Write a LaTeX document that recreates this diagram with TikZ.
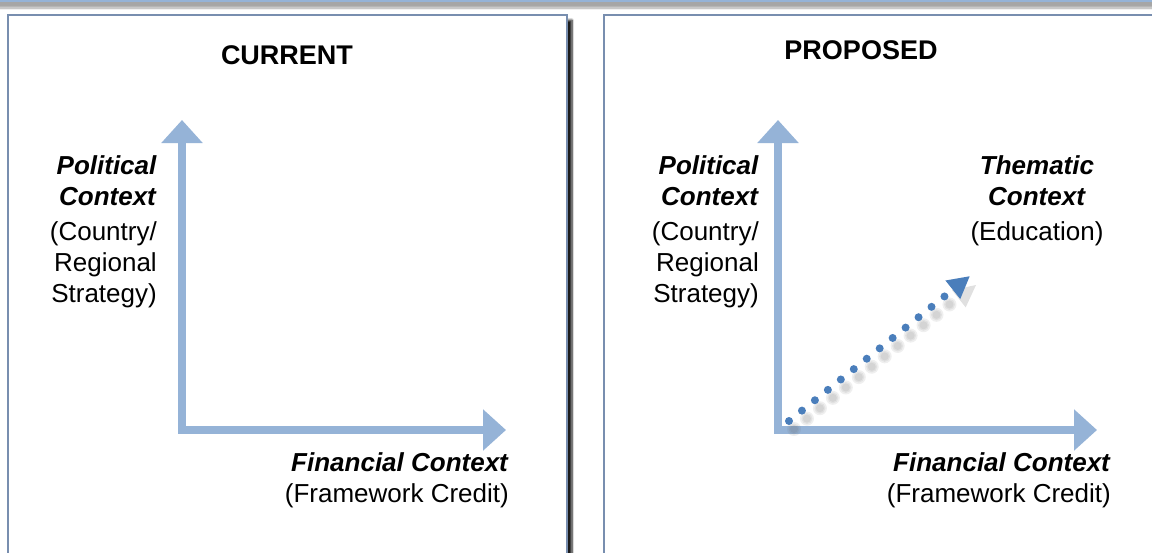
\documentclass[tikz,border=0pt]{standalone}
\usepackage{fontspec}
\setmainfont{Liberation Sans}
\usepackage{xcolor}
\usetikzlibrary{arrows.meta,shadows.blur}
\definecolor{frameblue}{RGB}{120,142,175}
\definecolor{barblue}{RGB}{149,179,215}
\definecolor{axisblue}{RGB}{149,179,215}
\definecolor{dotblue}{RGB}{74,126,187}
\tikzset{
	panel/.style={draw=frameblue, line width=2.5pt, fill=white,
			blur shadow={shadow xshift=5pt, shadow yshift=-5pt, shadow blur steps=8, shadow opacity=90}},
	topbar/.style={draw=barblue, line width=2pt, fill=white,
			blur shadow={shadow xshift=0pt, shadow yshift=-7pt, shadow blur steps=8, shadow opacity=35}},
	axisarrow/.style={draw=axisblue, line width=8pt, line join=miter,
			{Triangle[width=40pt,length=23pt]}-{Triangle[width=40pt,length=23pt]}},
	dotline/.style={draw=#1, line width=8pt, line cap=round, dash pattern=on 0pt off 16.6pt,
			-{Triangle[width=22pt,length=22pt]}},
	dotshade/.style={draw=black!60, line width=#1, line cap=round, dash pattern=on 0pt off 16.6pt,
			opacity=0.1},
	ctxtext/.style={font=\fontsize{26}{31}\selectfont, inner sep=0pt},
	paneltitle/.style={font=\fontsize{27}{31}\selectfont\bfseries, inner sep=0pt}
}

\begin{document}
\begin{tikzpicture}[x=1pt,y=-1pt]
	\useasboundingbox (0,0) rectangle (1152,552);

	\draw[topbar] (-20,-40) rectangle (1172,1);
	\draw[panel] (8,15) rectangle (567,570);
	\draw[panel] (604,15) rectangle (1175,570);

	\node[paneltitle] (cur-title) at (287,55) {CURRENT};
	\node[paneltitle] (prop-title) at (861,50) {PROPOSED};

	\coordinate (cur-o) at (182,430);
	\coordinate (cur-y) at (182,120);
	\coordinate (cur-x) at (506,430);
	\draw[axisarrow] (cur-y) -- (cur-o) -- (cur-x);

	\coordinate (prop-o) at (778,430);
	\coordinate (prop-y) at (778,120);
	\coordinate (prop-x) at (1097,430);
	\draw[axisarrow] (prop-y) -- (prop-o) -- (prop-x);

	\coordinate (prop-s) at (789,421);
	\coordinate (prop-t) at (970,276);
	\coordinate (prop-m) at ($(prop-t)!22pt!(prop-s)$);
	\foreach \w in {8pt,11pt,14pt}
		\draw[dotshade=\w] ([shift={(5,8)}]prop-s) -- ([shift={(5,8)}]prop-m);
	\fill[black, opacity=0.12] ([shift={(6,9)}]prop-t) -- ([shift={(6,9)}]$(prop-m)!11pt!90:(prop-t)$)
		-- ([shift={(6,9)}]$(prop-m)!11pt!-90:(prop-t)$) -- cycle;
	\draw[dotline=dotblue] (prop-s) -- (prop-t);

	\node[ctxtext, align=right, anchor=north east] (cur-pol) at (157,155)
		{\textbf{\textit{Political}}\\ \textbf{\textit{Context}}\\[4pt] (Country/\\ Regional\\ Strategy)};
	\node[ctxtext, align=right, anchor=north east] (cur-fin) at (509,452)
		{\textbf{\textit{Financial Context}}\\ (Framework Credit)};

	\node[ctxtext, align=right, anchor=north east] (prop-pol) at (759,155)
		{\textbf{\textit{Political}}\\ \textbf{\textit{Context}}\\[4pt] (Country/\\ Regional\\ Strategy)};
	\node[ctxtext, align=center, anchor=north] (prop-them) at (1037,155)
		{\textbf{\textit{Thematic}}\\ \textbf{\textit{Context}}\\[4pt] (Education)};
	\node[ctxtext, align=right, anchor=north east] (prop-fin) at (1111,452)
		{\textbf{\textit{Financial Context}}\\ (Framework Credit)};
\end{tikzpicture}
\end{document}
